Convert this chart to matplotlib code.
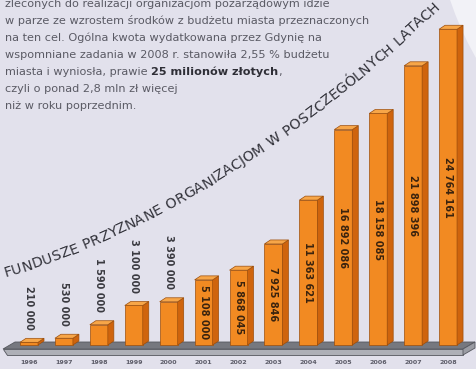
import matplotlib.pyplot as plt
import numpy as np
from matplotlib.patches import Polygon, Circle
from matplotlib.transforms import IdentityTransform

lata = ['1996', '1997', '1998', '1999', '2000', '2001', '2002',
        '2003', '2004', '2005', '2006', '2007', '2008']
kwoty = [210000, 530000, 1590000, 3100000, 3390000, 5108000, 5868045,
         7925846, 11363621, 16892086, 18158085, 21898396, 24764161]
tytul = 'FUNDUSZE PRZYZNANE ORGANIZACJOM W POSZCZEGÓLNYCH LATACH'
akapit = [
    'zleconych do realizacji organizacjom pozarządowym idzie',
    'w parze ze wzrostem środków z budżetu miasta przeznaczonych',
    'na ten cel. Ogólna kwota wydatkowana przez Gdynię na',
    'wspomniane zadania w 2008 r. stanowiła 2,55 % budżetu',
    'miasta i wyniosła, prawie ',
    'czyli o ponad 2,8 mln zł więcej',
    'niż w roku poprzednim.',
]
pogrubione = '25 milionów złotych'

W, H = 477, 369
TLO = '#e2e1ec'
PRZOD = '#f28a22'
BOK = '#cf640d'
GORA = '#f7a648'
KRAWEDZ = '#9c4e0c'
AKAPIT = 8.1

fig = plt.figure(figsize=(W / 100, H / 100), dpi=100)
fig.patch.set_facecolor(TLO)
pix = IdentityTransform()

# jasny łuk w prawym górnym rogu
fig.add_artist(Circle((752, H + 100), 318, transform=pix,
                      facecolor='#f2f2f7', edgecolor='none', zorder=0))

# osie na całą figurę: 34.92 px na rok, 12.75 px na milion
ax = fig.add_axes([0, 0, 1, 1])
ax.set_facecolor('none')
sx, sy = 34.92, 12.75 / 1e6
ax.set_xlim(-29 / sx, (W - 29) / sx)
ax.set_ylim(-(H - 345) / sy, 345 / sy)
ax.axis('off')


def px_x(p):
    return p / sx


def px_y(p):
    return p / sy


# podest pod słupkami
xl, xr = px_x(3 - 29), px_x(463 - 29)
sh = px_x(12)
yf, yb, grub = px_y(-4), px_y(3), px_y(6)
ax.add_patch(Polygon([(xl, yf), (xr, yf), (xr + sh, yb), (xl + sh, yb)],
                     closed=True, facecolor='#76787f', edgecolor='#55575e',
                     lw=0.6, zorder=1))
ax.add_patch(Polygon([(xl, yf), (xr, yf), (xr, yf - grub), (xl + px_x(4), yf - grub)],
                     closed=True, facecolor='#aeb0b7', edgecolor='#55575e',
                     lw=0.6, zorder=1))
ax.add_patch(Polygon([(xr, yf), (xr + sh, yb), (xr + sh, yb - grub), (xr, yf - grub)],
                     closed=True, facecolor='#9a9ca3', edgecolor='#55575e',
                     lw=0.6, zorder=1))

# słupki 3D
szer = px_x(18)
dx, dy = px_x(6), px_y(4)
x = np.arange(len(lata))
ax.bar(x, kwoty, width=szer, color=PRZOD, edgecolor=KRAWEDZ, lw=0.5, zorder=3)
for i, v in zip(x, kwoty):
    l, r = i - szer / 2, i + szer / 2
    ax.add_patch(Polygon([(r, 0), (r + dx, dy), (r + dx, v + dy), (r, v)],
                         closed=True, facecolor=BOK, edgecolor=KRAWEDZ,
                         lw=0.5, zorder=3))
    ax.add_patch(Polygon([(l, v), (l + dx, v + dy), (r + dx, v + dy), (r, v)],
                         closed=True, facecolor=GORA, edgecolor=KRAWEDZ,
                         lw=0.5, zorder=3))
    etykieta = f'{v:,}'.replace(',', ' ')
    if v > 4e6:
        ax.text(i, v / 2, etykieta, rotation=270, ha='center', va='center',
                fontsize=7, fontweight='bold', color='#3a230e', zorder=4)
    else:
        ax.annotate(etykieta, (i, v + dy), xytext=(0, 6), textcoords='offset points',
                    rotation=270, ha='center', va='bottom', fontsize=7,
                    fontweight='bold', color='#3a3a40', zorder=4)
    ax.text(i, px_y(345 - 362), lata[i], ha='center', va='center',
            fontsize=4.6, fontweight='bold', color='#5c5c68', zorder=4)

# tekst akapitu
renderer = fig.canvas.get_renderer()
for n, linia in enumerate(akapit):
    yy = H - (4 + 17 * n)
    t = fig.text(5, yy, linia, transform=pix, ha='left', va='center',
                 fontsize=AKAPIT, color='#5a5a64')
    if n == 4:
        bb = t.get_window_extent(renderer)
        t2 = fig.text(bb.x1, yy, pogrubione, transform=pix, ha='left',
                      va='center', fontsize=AKAPIT, fontweight='bold',
                      color='#2e2e36')
        bb2 = t2.get_window_extent(renderer)
        fig.text(bb2.x1, yy, ',', transform=pix, ha='left', va='center',
                 fontsize=AKAPIT, color='#5a5a64')

# tytuł wzdłuż łuku nad słupkami
kx = np.array([10, 80, 168, 255, 283, 390, 433])
ky = np.array([270, 248, 208, 155, 128, 46, 12])
wsp = np.polyfit(kx, ky, 2)
pochodna = np.polyder(wsp)
xs = np.linspace(0, 470, 3000)
ys = np.polyval(wsp, xs)
s = np.concatenate([[0], np.cumsum(np.hypot(np.diff(xs), np.diff(ys)))])
s0, s1 = np.interp(4, xs, s), np.interp(438, xs, s)

bazowy = 10
szerokosci = []
for ch in tytul:
    t = fig.text(0, 0, ch if ch != ' ' else 'I', fontsize=bazowy)
    w = t.get_window_extent(renderer).width
    if ch == ' ':
        w *= 1.3
    szerokosci.append(w)
    t.remove()
skala = (s1 - s0) / sum(szerokosci)
rozmiar = bazowy * skala
poz = s0
for ch, w in zip(tytul, szerokosci):
    w *= skala
    sc = poz + w / 2
    poz += w
    if ch == ' ':
        continue
    cx = np.interp(sc, s, xs)
    cy = np.polyval(wsp, cx)
    kat = np.degrees(np.arctan(-np.polyval(pochodna, cx)))
    fig.text(cx, H - cy, ch, transform=pix, rotation=kat, rotation_mode='anchor',
             ha='center', va='center', fontsize=rozmiar, color='#32323a')

fig.savefig('out.png', dpi=100, facecolor=fig.get_facecolor())
